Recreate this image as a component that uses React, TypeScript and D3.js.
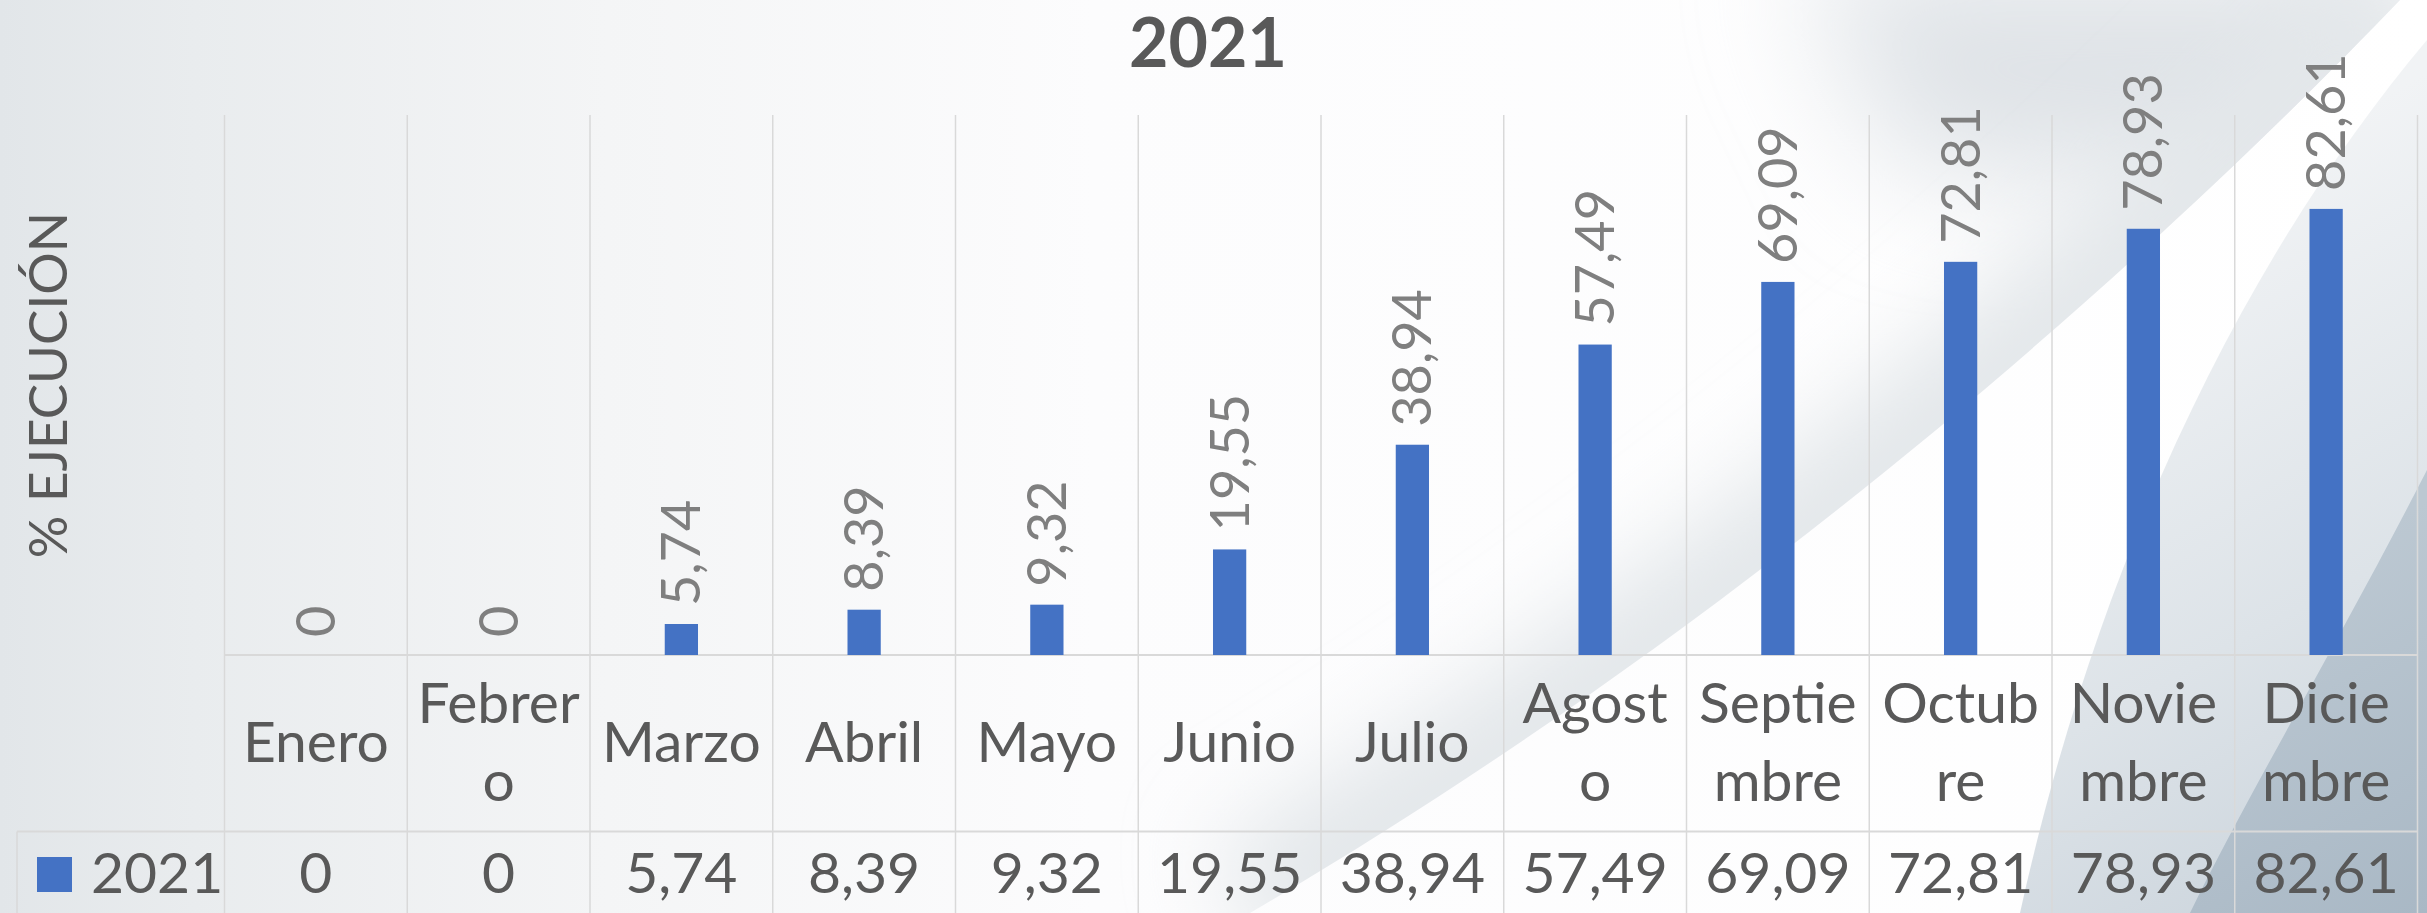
import React from "react";
import * as d3 from "d3";

// ---------- data ----------
const months = [
  "Enero", "Febrero", "Marzo", "Abril", "Mayo", "Junio",
  "Julio", "Agosto", "Septiembre", "Octubre", "Noviembre", "Diciembre",
];
// tick labels as they are displayed (wrapped inside the column)
const tickLabels = [
  ["Enero"], ["Febrer", "o"], ["Marzo"], ["Abril"], ["Mayo"], ["Junio"],
  ["Julio"], ["Agost", "o"], ["Septie", "mbre"], ["Octub", "re"], ["Novie", "mbre"], ["Dicie", "mbre"],
];
const values2021 = [0, 0, 5.74, 8.39, 9.32, 19.55, 38.94, 57.49, 69.09, 72.81, 78.93, 82.61];
const seriesName = "2021";
const chartTitle = "2021";
const yAxisTitle = "% EJECUCIÓN";
const yDomain = [0, 100];

// ---------- layout ----------
const W = 2427;
const H = 913;
const PLOT = { left: 224.5, right: 2417.5, top: 115, bottom: 655 };
const TABLE_ROW2_TOP = 831.5;
const LEGEND_LEFT = 17;
const FONT = "Lato, 'Open Sans', sans-serif";
const TEXT = "#595959";
const LABEL = "#7f7f7f";
const GRID = "#d9d9d9";
const BAR = "#4472C4";

const locale = d3.formatLocale({ decimal: ",", thousands: ".", grouping: [3], currency: ["", ""] });
const fmt = locale.format(".2~f");

export default function App() {
  const x = d3.scaleBand<string>().domain(months).range([PLOT.left, PLOT.right]).paddingInner(0).paddingOuter(0);
  const y = d3.scaleLinear().domain(yDomain).range([PLOT.bottom, PLOT.top]);
  const bw = x.bandwidth();
  const barW = bw * 0.182;
  const gridXs = [...months.map((m) => x(m) as number), PLOT.right];

  const e1 = "M2400,0 C2150,260 1750,620 1250,913";
  const lineH = 77.3;
  const catCenterBaseline = 762;

  return (
    <svg
      width={W}
      height={H}
      viewBox={`0 0 ${W} ${H}`}
      style={{ position: "fixed", left: 0, top: 0, display: "block" }}
      fontFamily={FONT}
    >
      <defs>
        <linearGradient id="bgBase" x1="0" y1="0" x2="1" y2="0">
          <stop offset="0" stopColor="#e2e6e9" />
          <stop offset="0.08" stopColor="#e9ecee" />
          <stop offset="0.25" stopColor="#f4f5f6" />
          <stop offset="0.45" stopColor="#fcfcfd" />
          <stop offset="1" stopColor="#ffffff" />
        </linearGradient>
        <linearGradient id="rightGrad" gradientUnits="userSpaceOnUse" x1="2100" y1="250" x2="2427" y2="850">
          <stop offset="0" stopColor="#f1f3f5" />
          <stop offset="0.6" stopColor="#dde3e8" />
          <stop offset="1" stopColor="#ccd5dd" />
        </linearGradient>
        <linearGradient id="darkGrad" gradientUnits="userSpaceOnUse" x1="2250" y1="600" x2="2427" y2="913">
          <stop offset="0" stopColor="#bcc8d2" />
          <stop offset="1" stopColor="#a9b8c5" />
        </linearGradient>
        <clipPath id="leftOfE1">
          <path d={`M0,0 L2400,0 C2150,260 1750,620 1250,913 L0,913 Z`} />
        </clipPath>
        <filter id="blur" x="-30%" y="-30%" width="160%" height="160%">
          <feGaussianBlur stdDeviation="45" />
        </filter>
        <filter id="blurTop" x="-30%" y="-60%" width="160%" height="220%">
          <feGaussianBlur stdDeviation="60" />
        </filter>
      </defs>

      {/* background */}
      <rect x={0} y={0} width={W} height={H} fill="url(#bgBase)" />
      <g clipPath="url(#leftOfE1)">
        <path d="M1800,-40 L2450,-40 L2280,200 L1900,170 Z" fill="#dfe3e7" filter="url(#blurTop)" />
        <path d={e1} fill="none" stroke="#e3e7ea" strokeWidth={150} filter="url(#blur)" />
      </g>
      <path d="M2427,40 C2250,250 2100,550 2020,913 L2427,913 Z" fill="url(#rightGrad)" />
      <path d="M2427,470 C2340,640 2250,790 2190,913 L2427,913 Z" fill="url(#darkGrad)" />

      {/* title */}
      <text x={1208} y={67} textAnchor="middle" fontSize={68} fontWeight={700} fill={TEXT}>
        {chartTitle}
      </text>

      {/* y axis title */}
      <text
        transform={`translate(67, ${(PLOT.top + PLOT.bottom) / 2}) rotate(-90)`}
        textAnchor="middle"
        fontSize={53}
        fill={TEXT}
      >
        {yAxisTitle}
      </text>

      {/* grid / table lines */}
      {gridXs.map((gx, i) => (
        <line key={`g${i}`} x1={gx} x2={gx} y1={PLOT.top} y2={H} stroke={GRID} strokeWidth={1.5} />
      ))}
      <line x1={PLOT.left} x2={PLOT.right} y1={PLOT.bottom} y2={PLOT.bottom} stroke={GRID} strokeWidth={1.8} />
      <line x1={LEGEND_LEFT} x2={PLOT.right} y1={TABLE_ROW2_TOP} y2={TABLE_ROW2_TOP} stroke={GRID} strokeWidth={1.8} />
      <line x1={LEGEND_LEFT} x2={LEGEND_LEFT} y1={TABLE_ROW2_TOP} y2={H} stroke={GRID} strokeWidth={1.5} />

      {/* bars */}
      {values2021.map((v, i) => {
        const cx = (x(months[i]) as number) + bw / 2;
        return (
          <rect key={`b${i}`} x={cx - barW / 2} y={y(v)} width={barW} height={y(0) - y(v)} fill={BAR} />
        );
      })}

      {/* data labels */}
      {values2021.map((v, i) => {
        const cx = (x(months[i]) as number) + bw / 2;
        return (
          <text
            key={`l${i}`}
            transform={`translate(${cx + 19}, ${y(v) - 18}) rotate(-90)`}
            textAnchor="start"
            fontSize={54}
            fill={LABEL}
          >
            {fmt(v)}
          </text>
        );
      })}

      {/* category labels */}
      {tickLabels.map((lines, i) => {
        const cx = (x(months[i]) as number) + bw / 2;
        const first = catCenterBaseline - ((lines.length - 1) * lineH) / 2;
        return (
          <text key={`c${i}`} x={cx} textAnchor="middle" fontSize={57} fill={TEXT}>
            {lines.map((ln, j) => (
              <tspan key={j} x={cx} y={first + j * lineH}>
                {ln}
              </tspan>
            ))}
          </text>
        );
      })}

      {/* data table row */}
      <rect x={37} y={857} width={35} height={35} fill={BAR} />
      <text x={91} y={892.7} fontSize={57} fill={TEXT}>
        {seriesName}
      </text>
      {values2021.map((v, i) => {
        const cx = (x(months[i]) as number) + bw / 2;
        return (
          <text key={`t${i}`} x={cx} y={892.7} textAnchor="middle" fontSize={57} fill={TEXT}>
            {fmt(v)}
          </text>
        );
      })}
    </svg>
  );
}
